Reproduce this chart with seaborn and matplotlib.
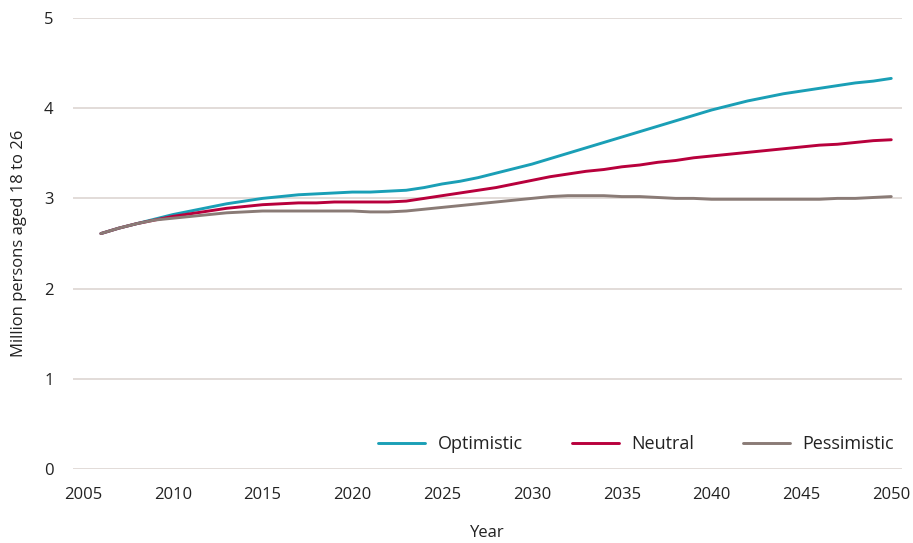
import matplotlib.pyplot as plt
import seaborn as sns
import pandas as pd

years = list(range(2006, 2051))

optimistic = [2.61, 2.67, 2.72, 2.77, 2.82, 2.86, 2.90, 2.94, 2.97, 3.00,
              3.02, 3.04, 3.05, 3.06, 3.07, 3.07, 3.08, 3.09, 3.12, 3.16,
              3.19, 3.23, 3.28, 3.33, 3.38, 3.44, 3.50, 3.56, 3.62, 3.68,
              3.74, 3.80, 3.86, 3.92, 3.98, 4.03, 4.08, 4.12, 4.16, 4.19,
              4.22, 4.25, 4.28, 4.30, 4.33]

neutral = [2.61, 2.67, 2.72, 2.76, 2.80, 2.83, 2.86, 2.89, 2.91, 2.93,
           2.94, 2.95, 2.95, 2.96, 2.96, 2.96, 2.96, 2.97, 3.00, 3.03,
           3.06, 3.09, 3.12, 3.16, 3.20, 3.24, 3.27, 3.30, 3.32, 3.35,
           3.37, 3.40, 3.42, 3.45, 3.47, 3.49, 3.51, 3.53, 3.55, 3.57,
           3.59, 3.60, 3.62, 3.64, 3.65]

pessimistic = [2.61, 2.67, 2.72, 2.76, 2.78, 2.80, 2.82, 2.84, 2.85, 2.86,
               2.86, 2.86, 2.86, 2.86, 2.86, 2.85, 2.85, 2.86, 2.88, 2.90,
               2.92, 2.94, 2.96, 2.98, 3.00, 3.02, 3.03, 3.03, 3.03, 3.02,
               3.02, 3.01, 3.00, 3.00, 2.99, 2.99, 2.99, 2.99, 2.99, 2.99,
               2.99, 3.00, 3.00, 3.01, 3.02]

scenarios = ["Optimistic", "Neutral", "Pessimistic"]
colors = ["#1a9fb6", "#b8003c", "#8a7b76"]

df = pd.concat([
    pd.DataFrame({"Year": years, "value": vals, "scenario": name})
    for name, vals in zip(scenarios, [optimistic, neutral, pessimistic])
])

sns.set_style("white")
plt.rcParams["font.family"] = ["Open Sans", "DejaVu Sans"]
text_color = "#222222"

fig = plt.figure(figsize=(9.13, 5.43), dpi=100)
ax = fig.add_axes([0.080, 0.1363, 0.908, 0.8306])

sns.lineplot(data=df, x="Year", y="value", hue="scenario",
             hue_order=scenarios, palette=colors, linewidth=2.1, ax=ax)

ax.set_xlim(2004.45, 2050.6)
ax.set_ylim(0, 5)
ax.set_xticks(range(2005, 2051, 5))
ax.set_yticks(range(0, 6))
ax.grid(axis="y", color="#ddd5d2", linewidth=1.2)
ax.grid(axis="x", visible=False)
for s in ax.spines.values():
    s.set_visible(False)
ax.tick_params(axis="both", length=0, labelsize=12, colors=text_color)
ax.tick_params(axis="x", pad=13)
ax.tick_params(axis="y", pad=14)

ax.set_xlabel("Year", fontsize=12, color=text_color, labelpad=16)
ax.set_ylabel("Million persons aged 18 to 26", fontsize=12, color=text_color, labelpad=12)

ax.legend(title=None, ncol=3, frameon=False, loc="center right",
          bbox_to_anchor=(1.01, 0.055), fontsize=13, handlelength=2.6,
          handletextpad=0.7, columnspacing=2.7, labelcolor=text_color)

plt.savefig("out.png", dpi=100)
